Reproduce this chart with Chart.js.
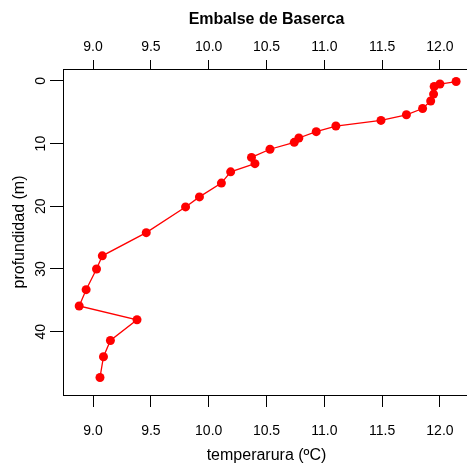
<!DOCTYPE html>
<html>
<head>
<meta charset="utf-8">
<script src="https://cdn.jsdelivr.net/npm/chart.js@4"></script>
<style>
  html, body { margin: 0; padding: 0; background: #fff; overflow: hidden; }
  canvas { display: block; }
</style>
</head>
<body>
<canvas id="perfil" width="476" height="468"></canvas>
<script>
// perfil de temperatura, Embalse de Baserca
const temperatura = [12.14, 12.00, 11.95, 11.945, 11.92, 11.85, 11.71, 11.49, 11.10, 10.93,
    10.78, 10.74, 10.53, 10.37, 10.40, 10.19, 10.11, 9.92, 9.80, 9.46,
    9.08, 9.03, 8.94, 8.88, 9.38, 9.15, 9.09, 9.06];
const profundidad = [0.1, 0.5, 0.9, 2.1, 3.2, 4.4, 5.4, 6.3, 7.2, 8.1,
    9.1, 9.8, 10.9, 12.2, 13.2, 14.5, 16.3, 18.5, 20.1, 24.2,
    27.9, 30.0, 33.3, 35.9, 38.1, 41.4, 44.0, 47.3];
const xTicks = [9.0, 9.5, 10.0, 10.5, 11.0, 11.5, 12.0];
const yTicks = [0, 10, 20, 30, 40];

document.addEventListener('DOMContentLoaded', function () {
    const ctx = document.getElementById('perfil').getContext('2d');
    const font = 'Liberation Sans, Arial, sans-serif';
    const puntos = temperatura.map((t, i) => ({ x: t, y: profundidad[i] }));

    const xAxis = function (pos, tickLen, pad, h) {
        return {
            type: 'linear',
            position: pos,
            min: 8.74,
            max: 12.26,
            afterBuildTicks: s => { s.ticks = xTicks.map(v => ({ value: v })); },
            afterFit: s => { s.height = h; },
            grid: { drawOnChartArea: false, drawTicks: true, tickLength: tickLen, tickColor: '#000', tickWidth: 1 },
            border: { display: true, color: '#000', width: 1 },
            ticks: {
                color: '#000', padding: pad, maxRotation: 0, minRotation: 0,
                font: { family: font, size: 14 },
                callback: v => v.toFixed(1)
            }
        };
    };

    const bottomX = xAxis('bottom', 12, 15.6, 73);
    bottomX.title = {
        display: true, text: 'temperarura (ºC)', color: '#000',
        font: { family: font, size: 16 }, padding: { top: 0, bottom: 2.4 }
    };
    const topX = xAxis('top', 9, 4.3, 39.8);

    new Chart(ctx, {
        type: 'scatter',
        data: {
            datasets: [{
                data: puntos,
                showLine: true,
                borderColor: '#ff0000',
                backgroundColor: '#ff0000',
                borderWidth: 1.3,
                pointRadius: 4.5,
                pointBorderWidth: 0,
                pointHoverRadius: 4.5
            }]
        },
        options: {
            responsive: false,
            animation: false,
            layout: { padding: { left: 0, right: 6, top: 0, bottom: 0 } },
            plugins: {
                legend: { display: false },
                tooltip: { enabled: false },
                title: {
                    display: true,
                    text: 'Embalse de Baserca',
                    color: '#000',
                    fullSize: false,
                    font: { family: font, size: 16, weight: 'bold' },
                    padding: { top: 10, bottom: 0 }
                }
            },
            scales: {
                x: bottomX,
                x2: topX,
                y: {
                    type: 'linear',
                    position: 'left',
                    reverse: true,
                    min: -1.9,
                    max: 50.1,
                    afterBuildTicks: s => { s.ticks = yTicks.map(v => ({ value: v })); },
                    afterFit: s => { s.width = 63; },
                    grid: { drawOnChartArea: false, drawTicks: true, tickLength: 13, tickColor: '#000', tickWidth: 1 },
                    border: { display: true, color: '#000', width: 1 },
                    ticks: {
                        color: '#000', padding: 1, minRotation: 90, maxRotation: 90,
                        crossAlign: 'center',
                        font: { family: font, size: 14 }
                    },
                    title: {
                        display: true, text: 'profundidad (m)', color: '#000',
                        font: { family: font, size: 16 }, padding: { top: 10, bottom: 0 }
                    }
                }
            }
        }
    });
});
</script>
</body>
</html>
